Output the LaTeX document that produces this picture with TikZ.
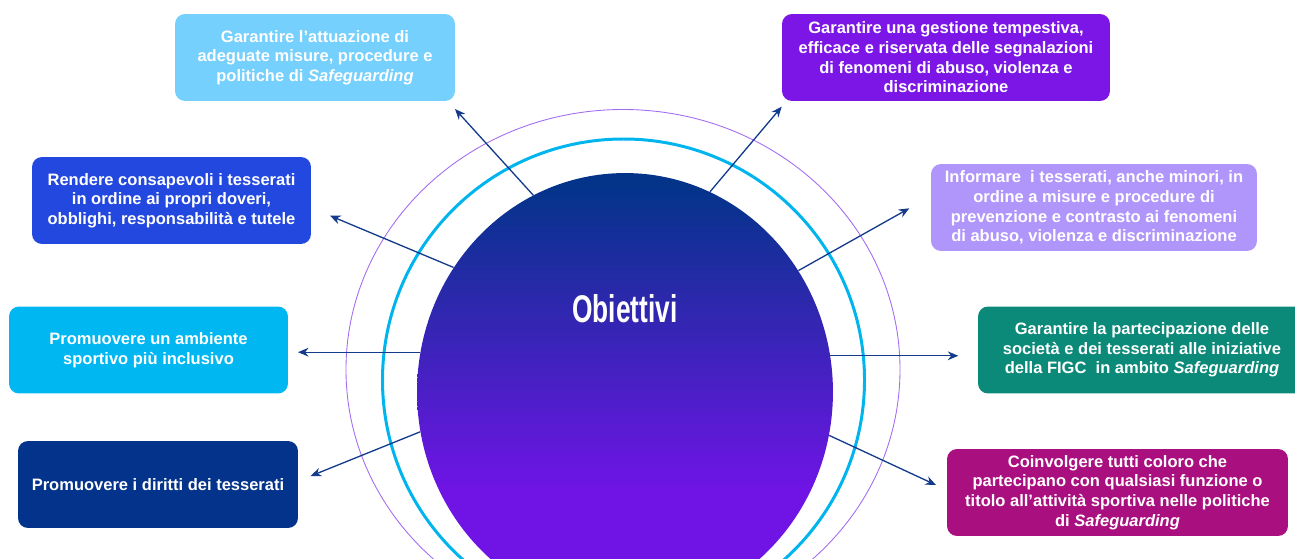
\documentclass[tikz,border=0pt]{standalone}
\usepackage{fontspec}
\setmainfont{Liberation Sans}
\newfontfamily\titlefont[FakeStretch=0.68]{Liberation Sans}
\usetikzlibrary{shapes.geometric,arrows.meta}
\definecolor{objnavy}{HTML}{03348A}
\definecolor{objpurple}{HTML}{7014E6}
\definecolor{ringcyan}{HTML}{00B4EE}
\definecolor{ringviolet}{HTML}{A36CF2}
\definecolor{arrowblue}{HTML}{143A8C}
\definecolor{goalsky}{HTML}{75D0FD}
\definecolor{goalviolet}{HTML}{7B16E7}
\definecolor{goalblue}{HTML}{2348E0}
\definecolor{goalcyan}{HTML}{00B7F1}
\definecolor{goalnavy}{HTML}{03338A}
\definecolor{goallilac}{HTML}{B096FA}
\definecolor{goalteal}{HTML}{0C8A79}
\definecolor{goalmagenta}{HTML}{AA0F7F}
\pgfdeclareverticalshading{objshade}{100bp}{color(0bp)=(objpurple); color(38.5bp)=(objpurple); color(73.5bp)=(objnavy); color(100bp)=(objnavy)}
\tikzset{
  goal/.style={rounded corners=0.2cm, text=white, align=center, inner sep=2pt,
    minimum height=1.74cm, font=\fontsize{9.4}{11.2}\selectfont\bfseries},
  arr/.style={draw=arrowblue, line width=0.75pt, -{Stealth[length=6pt,width=5pt]}},
}
\begin{document}
\begin{tikzpicture}[x=0.02cm,y=-0.02cm]
  \useasboundingbox (0,0) rectangle (1295,558);
  \clip (0,0) rectangle (1295,558);
  \draw[ringviolet,line width=0.5pt] (623,369.5) ellipse[x radius=277,y radius=260];
  \draw[ringcyan,line width=1.7pt] (623.5,380) circle[radius=241];
  \node[ellipse,shading=objshade,inner sep=0pt,minimum width=8.32cm,minimum height=8.76cm] (obj) at (625,392) {};
  \node[text=white,font=\titlefont\bfseries\fontsize{22}{24}\selectfont] (objtitle) at (625,309) {Obiettivi};
  \node[goal,fill=goalsky,minimum width=5.6cm] (gattuaz) at (315,57.5)
    {Garantire l’attuazione di\\adeguate misure, procedure e\\politiche di \textit{Safeguarding}};
  \node[goal,fill=goalviolet,minimum width=6.56cm] (ggest) at (946,57.5)
    {Garantire una gestione tempestiva,\\efficace e riservata delle segnalazioni\\di fenomeni di abuso, violenza e\\discriminazione};
  \node[goal,fill=goalblue,minimum width=5.58cm] (rcons) at (171.5,200.5)
    {Rendere consapevoli i tesserati\\in ordine ai propri doveri,\\obblighi, responsabilità e tutele};
  \node[goal,fill=goalcyan,minimum width=5.58cm] (pamb) at (148.5,350)
    {Promuovere un ambiente\\sportivo più inclusivo};
  \node[goal,fill=goalnavy,minimum width=5.6cm] (pdir) at (158,484.5)
    {Promuovere i diritti dei tesserati};
  \node[goal,fill=goallilac,minimum width=6.52cm] (inf) at (1094,207.5)
    {Informare~ i tesserati, anche minori, in\\ordine a misure e procedure di\\prevenzione e contrasto ai fenomeni\\di abuso, violenza e discriminazione};
  \node[goal,fill=goalteal,minimum width=6.56cm] (gpart) at (1142,350)
    {Garantire la partecipazione delle\\società e dei tesserati alle iniziative\\della FIGC~ in ambito \textit{Safeguarding}};
  \node[goal,fill=goalmagenta,minimum width=6.82cm] (coinv) at (1117.5,492.5)
    {Coinvolgere tutti coloro che\\partecipano con qualsiasi funzione o\\titolo all’attività sportiva nelle politiche\\di \textit{Safeguarding}};
  \coordinate (tA) at (455,109);
  \coordinate (tB) at (781.7,106.7);
  \coordinate (tC) at (330,215.7);
  \coordinate (tD) at (298,353);
  \coordinate (tE) at (310.7,476);
  \coordinate (tF) at (909.3,208.3);
  \coordinate (tG) at (958.3,354);
  \coordinate (tH) at (936,485);
  \draw[arr] (obj.115.4) -- (tA);
  \draw[arr] (obj.67.6) -- (tB);
  \draw[arr] (obj.144) -- (tC);
  \draw[arr] (obj.169.2) -- (obj.169.2 -| tD);
  \draw[arr] (obj.191.1) -- (tE);
  \draw[arr] (obj.35.9) -- (tF);
  \draw[arr] (obj.10.4) -- (obj.10.4 -| tG);
  \draw[arr] (obj.348.2) -- (tH);
\end{tikzpicture}
\end{document}
